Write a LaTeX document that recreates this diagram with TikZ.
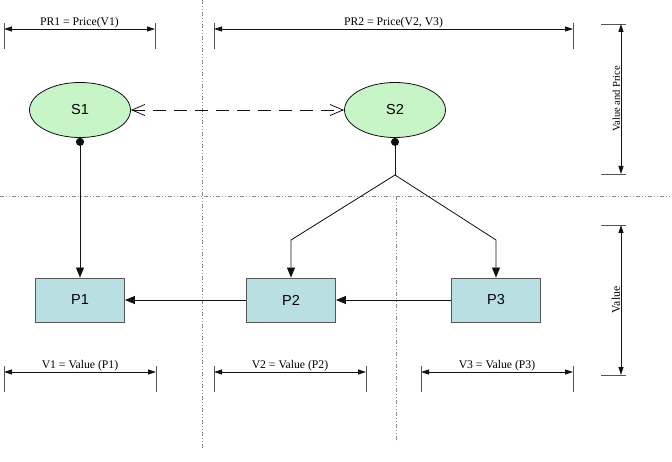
\documentclass[tikz,border=0pt]{standalone}
\usepackage{fontspec}
\setmainfont{Liberation Serif}
\setsansfont{Liberation Sans}
\usepackage{tikz}
\usetikzlibrary{arrows.meta,positioning,shapes.geometric}
\definecolor{Ink}{HTML}{111111}
\definecolor{Leaf}{HTML}{C8F5C8}
\definecolor{Pool}{HTML}{BADFE3}
\definecolor{Frame}{HTML}{555555}
\definecolor{Guide}{HTML}{8C8C8C}
\tikzset{
  state/.style={ellipse,draw=Ink,fill=Leaf,line width=0.8pt,
    minimum width=101pt,minimum height=55pt,inner sep=0pt,
    font=\sffamily\fontsize{14.5}{16}\selectfont},
  part/.style={rectangle,draw=Frame,fill=Pool,line width=0.9pt,
    minimum width=89pt,minimum height=44pt,inner sep=0pt,
    font=\sffamily\fontsize{14.5}{16}\selectfont},
  link/.style={draw=Ink,line width=0.8pt},
  flow/.style={link,-{Triangle[length=10pt,width=8pt]}},
  guide/.style={draw=Guide,line width=0.9pt,
    dash pattern=on 4pt off 2pt on 1pt off 2pt on 1pt off 2pt},
  dimline/.style={draw=Ink,line width=0.8pt,
    {Triangle[length=8pt,width=5pt]}-{Triangle[length=8pt,width=5pt]}},
  tick/.style={draw=Frame,line width=0.9pt}
}
\newcommand{\hspan}[5]{%
  \coordinate (#1a) at (#3,#5);
  \coordinate (#1b) at (#4,#5);
  \draw[tick] ([yshift=6pt]#1a) -- ([yshift=-20pt]#1a);
  \draw[tick] ([yshift=6pt]#1b) -- ([yshift=-20pt]#1b);
  \draw[dimline] (#1a) -- node[above,inner sep=0.6pt,
    font=\fontsize{11.7}{13}\selectfont] {#2} (#1b);
}
\newcommand{\vspan}[6][11.7]{%
  \coordinate (#2a) at (#6,#4);
  \coordinate (#2b) at (#6,#5);
  \draw[tick] ([xshift=-20pt]#2a) -- ([xshift=5pt]#2a);
  \draw[tick] ([xshift=-20pt]#2b) -- ([xshift=5pt]#2b);
  \draw[dimline] (#2a) -- node[sloped,above,inner sep=0.6pt,
    font=\fontsize{#1}{13}\selectfont] {#3} (#2b);
}

\begin{document}
\begin{tikzpicture}[x=1pt,y=-1pt]
  \useasboundingbox (0,0) rectangle (672,462);

  % layer borders
  \draw[guide] (0,196) -- (672,196);
  \draw[guide] (202,0) -- (202,448);
  \draw[guide] (396,196) -- (396,442);

  \node[state] (s1) at (80,110) {S1};
  \node[state] (s2) at (395,110) {S2};
  \node[part] (p1) at (80,300) {P1};
  \node[part] (p2) at (291,300) {P2};
  \node[part] (p3) at (496,300) {P3};

  \coordinate (fork) at (395,175);
  \coordinate (lbend) at (291,240);
  \coordinate (rbend) at (496,240);

  \draw[link,dash pattern=on 13pt off 8pt,
    {Straight Barb[length=13pt,width=11pt]}-{Straight Barb[length=13pt,width=11pt]}]
    (s1) -- (s2);
  \draw[flow,{Circle[length=8pt]}-{Triangle[length=10pt,width=8pt]}]
    (s1.south) -- (p1.north);
  \draw[link,{Circle[length=8pt]}-] (s2.south) -- (fork);
  \draw[flow] (fork) -- (lbend) -- (p2.north);
  \draw[flow] (fork) -- (rbend) -- (p3.north);
  \draw[flow] (p3) -- (p2);
  \draw[flow] (p2) -- (p1);

  % dimensions
  \hspan{pr1}{PR1 = Price(V1)}{4}{155}{29}
  \hspan{pr2}{PR2 = Price(V2, V3)}{214}{573}{29}
  \hspan{v1}{V1 = Value (P1)}{4}{156}{372}
  \hspan{v2}{V2 = Value (P2)}{214}{366}{372}
  \hspan{v3}{V3 = Value (P3)}{421}{573}{372}
  \vspan[10.5]{vp}{Value and Price}{174}{24}{621}
  \vspan{va}{Value}{375}{225}{621}
\end{tikzpicture}
\end{document}
